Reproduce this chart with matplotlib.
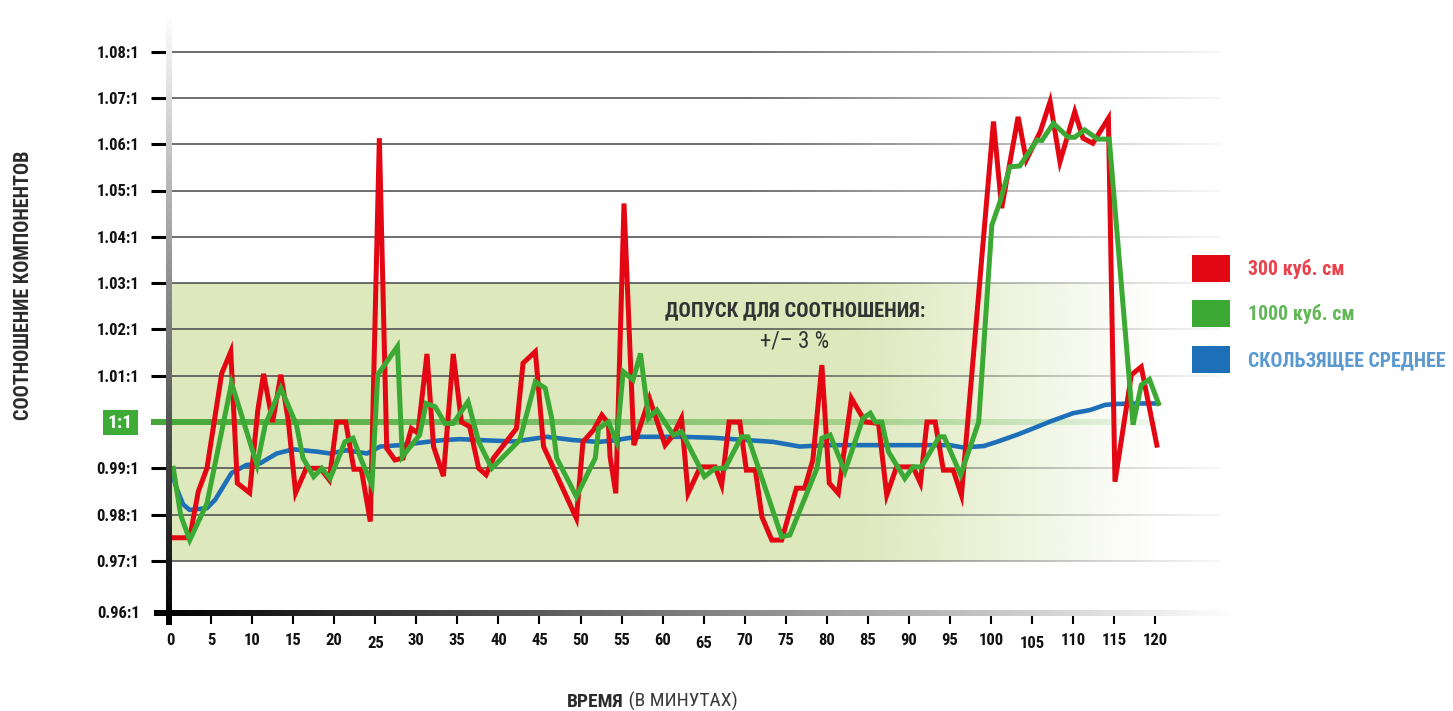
import numpy as np
import matplotlib
matplotlib.use("Agg")
import matplotlib.pyplot as plt
from matplotlib import font_manager as fm
from matplotlib.collections import LineCollection
from matplotlib.patches import Patch, Rectangle
from matplotlib.colors import to_rgba
from matplotlib.transforms import ScaledTranslation

# ---------------- data ----------------
t_300 = [0, 2.4, 3.45, 4.5, 6.3, 7.4, 8.2, 9.7, 10.7, 11.4, 12.5, 13.5, 14.4, 15.3,
         16.6, 18.3, 19.4, 20.3, 21.4, 22.4, 23.3, 24.4, 25.5, 26.4, 27.4, 28.4, 29.4,
         30.2, 31.3, 32.1, 33.3, 34.5, 35.5, 36.5, 37.6, 38.5, 39.4, 42.2, 43.0, 44.5,
         45.5, 49.5, 50.3, 51.6, 52.6, 53.4, 53.6, 54.3, 55.3, 56.5, 58.4, 60.3, 61.3,
         62.3, 63.1, 64.6, 66.4, 67.2, 68.1, 69.4, 70.2, 71.3, 72.1, 73.3, 74.5, 76.3,
         77.3, 78.3, 79.4, 80.3, 81.4, 83.0, 84.7, 86.3, 87.3, 88.5, 90.5, 91.4, 92.2,
         93.2, 94.2, 95.4, 96.4, 100.3, 101.3, 103.3, 104.3, 106.0, 107.2, 108.4, 110.2,
         111.2, 112.4, 114.3, 115.1, 117.1, 118.3, 120.2]
v_300 = [0.975, 0.975, 0.985, 0.990, 1.0105, 1.0152, 0.9868, 0.9847, 1.0026, 1.0104,
         1.000, 1.0102, 1.0004, 0.9847, 0.990, 0.990, 0.9875, 1.000, 1.000, 0.9898,
         0.9898, 0.9785, 1.0613, 0.9943, 0.9918, 0.9922, 0.9986, 0.9976, 1.0147, 0.9947,
         0.9883, 1.0147, 1.000, 0.999, 0.990, 0.9886, 0.9922, 0.9986, 1.0127, 1.0152,
         0.9947, 0.9792, 0.9957, 0.9983, 1.0015, 0.9997, 0.9925, 0.9846, 1.0472, 0.995,
         1.0051, 0.995, 0.9972, 1.0008, 0.9846, 0.9903, 0.9903, 0.9864, 1.000, 1.000,
         0.9896, 0.9896, 0.9795, 0.9745, 0.9745, 0.9857, 0.9857, 0.9918, 1.0123, 0.9868,
         0.9846, 1.0051, 1.000, 0.9997, 0.9842, 0.9903, 0.9903, 0.9868, 1.000, 1.000,
         0.9896, 0.9896, 0.9842, 1.0649, 1.0462, 1.0659, 1.0566, 1.0627, 1.0692, 1.0562,
         1.067, 1.0613, 1.0602, 1.0656, 0.9871, 1.0102, 1.0119, 0.995]

t_1000 = [0.4, 1.3, 2.4, 4.5, 7.5, 10.6, 11.6, 13.5, 15.4, 16.2, 17.5, 18.5, 19.5, 21.3,
          22.3, 23.3, 24.6, 25.3, 27.7, 28.3, 30.4, 31.2, 32.3, 33.5, 34.5, 36.3, 37.6,
          39.2, 42.6, 44.5, 45.7, 46.5, 47.1, 49.5, 51.8, 52.2, 53.4, 54.4, 55.2, 56.4,
          57.3, 58.3, 59.3, 61.3, 62.3, 65.1, 66.4, 67.6, 69.6, 70.4, 74.5, 75.5, 78.8,
          79.4, 80.4, 82.2, 84.4, 85.3, 85.9, 86.7, 87.5, 89.5, 90.5, 91.5, 93.7, 94.3,
          96.3, 98.5, 100.1, 101.1, 102.3, 103.5, 105.6, 106.2, 107.6, 109.4, 110.2,
          111.4, 113.0, 114.4, 117.3, 118.3, 119.3, 120.4]
v_1000 = [0.990, 0.9799, 0.9745, 0.9824, 1.0084, 0.9907, 0.9994, 1.0073, 0.9994, 0.9922,
          0.9882, 0.990, 0.9878, 0.9957, 0.9965, 0.9918, 0.9864, 1.0102, 1.0163, 0.9925,
          0.9972, 1.004, 1.0033, 0.9997, 0.9997, 1.0044, 0.9957, 0.990, 0.9961, 1.0087,
          1.0073, 1.0008, 0.9922, 0.9839, 0.9922, 0.9986, 1.000, 0.9957, 1.0109, 1.0091,
          1.0148, 1.0008, 1.0026, 0.9972, 0.9979, 0.9882, 0.990, 0.990, 0.9968, 0.9968,
          0.9752, 0.9756, 0.990, 0.9965, 0.9972, 0.9893, 1.0008, 1.0019, 1.000, 1.000,
          0.9936, 0.9878, 0.9903, 0.9903, 0.9968, 0.9968, 0.9886, 1.000, 1.0425, 1.0476,
          1.0551, 1.0553, 1.0609, 1.0608, 1.0645, 1.0615, 1.0615, 1.0631, 1.0611, 1.0611,
          0.9994, 1.008, 1.0092, 1.004]

t_avg = [0.2, 0.8, 1.6, 2.4, 4.5, 5.5, 7.5, 9.3, 11.0, 13.0, 15.0, 17.9, 19.5, 21.5, 24.0,
         25.6, 28.0, 31.3, 33.3, 35.3, 39.0, 42.0, 45.9, 49.1, 52.2, 54.0, 56.8, 62.1,
         66.1, 69.4, 73.5, 76.7, 80.0, 90.0, 95.0, 96.6, 99.1, 100.7, 103.1, 104.7, 107.2,
         110.0, 112.1, 113.9, 115.3, 117.7, 120.4]
v_avg = [0.989, 0.9857, 0.9822, 0.981, 0.9814, 0.9832, 0.989, 0.9907, 0.9911, 0.9932,
         0.9941, 0.9936, 0.9932, 0.9939, 0.9932, 0.9947, 0.995, 0.9957, 0.9961, 0.9963,
         0.996, 0.9958, 0.9968, 0.9961, 0.9957, 0.996, 0.9968, 0.9968, 0.9966, 0.9962,
         0.9957, 0.9947, 0.995, 0.995, 0.995, 0.9945, 0.9948, 0.9957, 0.9972, 0.9983,
         1.0001, 1.0019, 1.0026, 1.0037, 1.0039, 1.004, 1.004]

x_ticks = [0, 5, 10, 15, 20, 25, 30, 35, 40, 45, 50, 55, 60, 65, 70, 75, 80, 85, 90, 95,
           100, 105, 110, 115, 120]
x_tick_labels = [str(v) for v in x_ticks]
y_ticks = [0.97, 0.98, 0.99, 1.01, 1.02, 1.03, 1.04, 1.05, 1.06, 1.07, 1.08]
y_tick_labels = ["0.97:1", "0.98:1", "0.99:1", "1.01:1", "1.02:1", "1.03:1", "1.04:1",
                 "1.05:1", "1.06:1", "1.07:1", "1.08:1"]
bottom_label = "0.96:1"
target_ratio = 1.0
target_label = "1:1"
tol_low, tol_high = 0.97, 1.03
series_labels = ["300 куб. см", "1000 куб. см", "СКОЛЬЗЯЩЕЕ СРЕДНЕЕ"]

# ---------------- fonts ----------------
available = {f.name for f in fm.fontManager.ttflist}
def pick(*names):
    for n in names:
        if n in available:
            return n
    return "DejaVu Sans"
NARROW = pick("Liberation Sans Narrow", "DejaVu Sans Condensed", "Roboto Condensed",
              "Liberation Sans")
plt.rcParams["font.family"] = [NARROW, "DejaVu Sans"]

# ---------------- geometry helpers ----------------
W, H = 1453, 711
PX_PER_MIN = 8.21
PX_PER_UNIT = 4630.0
def vy(py):   # pixel row -> value
    return 1.0 + (422.0 - py) / PX_PER_UNIT
def tx(px):   # pixel column -> minutes
    return (px - 170.0) / PX_PER_MIN
def fx(px):
    return px / W
def fy(py):
    return 1 - py / H

RED = "#e30613"
GREEN = "#3ca935"
BLUE = "#1d6fb8"

fig = plt.figure(figsize=(W / 100, H / 100), dpi=100)
x_max = 128
ax = fig.add_axes([fx(170), fy(613), 128 * PX_PER_MIN / W, 600 / H])
ax.set_xlim(0, x_max)
ax.set_ylim(vy(613), vy(13))
for s in ax.spines.values():
    s.set_visible(False)
ax.patch.set_visible(False)

# tolerance band with fading right part
band_end = tx(1160)
n = 600
xs = np.linspace(0, band_end, n)
alpha = np.clip((band_end - xs) / (band_end - 84.0), 0, 1)
band = np.zeros((1, n, 4))
band[..., :3] = to_rgba("#dde9bd")[:3]
band[0, :, 3] = alpha
ax.imshow(band, extent=[0, band_end, tol_low, tol_high], aspect="auto",
          interpolation="bilinear", zorder=1)

# grid lines fading to the right
gx = np.linspace(0, tx(1245), 300)
ga = np.clip((gx[-1] - gx) / (gx[-1] - 70.0), 0, 1)
for yv in y_ticks:
    segs = [[(gx[i], yv), (gx[i + 1], yv)] for i in range(len(gx) - 1)]
    cols = [(0.28, 0.28, 0.28, ga[i]) for i in range(len(gx) - 1)]
    ax.add_collection(LineCollection(segs, colors=cols, linewidths=1.1, zorder=2,
                                     capstyle="butt"))

# 1:1 target line, fading
lx = np.linspace(tx(151), band_end, 300)
la = np.clip(1.0 - 0.92 * np.clip(lx, 0, None) / band_end, 0, 1)
segs = [[(lx[i], target_ratio), (lx[i + 1], target_ratio)] for i in range(len(lx) - 1)]
cols = [to_rgba("#45a838", la[i]) for i in range(len(lx) - 1)]
ax.add_collection(LineCollection(segs, colors=cols, linewidths=4.3, zorder=3,
                                 capstyle="butt", clip_on=False))

# series
ax.plot(t_avg, v_avg, color=BLUE, lw=3.3, zorder=4, solid_joinstyle="round",
        solid_capstyle="round")
ax.plot(t_300, v_300, color=RED, lw=3.6, zorder=5, solid_joinstyle="miter")
ax.plot(t_1000, v_1000, color=GREEN, lw=3.6, zorder=6, solid_joinstyle="miter")

# axis bars with gradients
ygrad = np.linspace(1, 0, 256)[:, None]
ax.imshow(ygrad, cmap="gray", vmin=0, vmax=1, extent=[tx(166), tx(172), vy(625), vy(13)],
          aspect="auto", zorder=10, clip_on=False, interpolation="bilinear")
xgrad = np.linspace(0, 1, 512)[None, :]
ax.imshow(xgrad, cmap="gray", vmin=0, vmax=1, extent=[tx(154), tx(1235), vy(616), vy(610)],
          aspect="auto", zorder=10, clip_on=False, interpolation="bilinear")
ax.set_xlim(0, x_max)
ax.set_ylim(vy(613), vy(13))

# ticks
ax.set_xticks(x_ticks, x_tick_labels)
ax.set_yticks(y_ticks, y_tick_labels)
ax.tick_params(axis="x", length=8, width=1.5, color="black", pad=6.5, labelsize=12,
               labelcolor="#111111")
ax.tick_params(axis="y", length=13.5, width=2.2, color="black", pad=8.5, labelsize=12,
               labelcolor="#111111")
for lab in ax.get_yticklabels():
    lab.set_fontweight("bold")
for lab in ax.get_xticklabels():
    lab.set_fontweight("bold")
    if lab.get_text() in ("25", "65", "105"):
        lab.set_transform(lab.get_transform() + ScaledTranslation(0, -0.03, fig.dpi_scale_trans))

fig.text(fx(139.5), fy(614), bottom_label, ha="right", va="center", fontsize=12,
         fontweight="bold", color="#111111")

# 1:1 label box
fig.patches.append(Rectangle((fx(102.7), fy(435)), 35.6 / W, 25 / H, transform=fig.transFigure,
                             facecolor="#3dab35", edgecolor="none"))
fig.text(fx(120.5), fy(422.5), target_label, ha="center", va="center", fontsize=14,
         fontweight="bold", color="white")

# axis titles
fig.text(fx(24), fy(285), "СООТНОШЕНИЕ КОМПОНЕНТОВ", rotation=90, ha="center", va="center",
         fontsize=14.6, fontweight="bold", color="#2b2b2b")

# annotation
ax.text(tx(795), vy(311), "ДОПУСК ДЛЯ СООТНОШЕНИЯ:", ha="center", va="center", fontsize=14.8,
        fontweight="bold", color="#333333", zorder=8)
ax.text(tx(795), vy(341), "+/– 3 %", ha="center", va="center", fontsize=16.5,
        color="#333333", zorder=8)

# x title in two weights
t1 = fig.text(0, fy(707), "ВРЕМЯ", ha="left", va="baseline", fontsize=14,
              fontweight="bold", color="#2b2b2b")
t2 = fig.text(0, fy(707), " (В МИНУТАХ)", ha="left", va="baseline", fontsize=14,
              color="#3a3a3a")
fig.canvas.draw()
r = fig.canvas.get_renderer()
w1 = t1.get_window_extent(r).width
w2 = t2.get_window_extent(r).width
start = 652 - (w1 + w2) / 2
t1.set_x(fx(start))
t2.set_x(fx(start + w1))

# legend
handles = [Patch(facecolor=RED, edgecolor="none"),
           Patch(facecolor=GREEN, edgecolor="none"),
           Patch(facecolor=BLUE, edgecolor="none")]
fs_pt = 14.3
fs_px = fs_pt / 0.72
leg = fig.legend(handles, series_labels, loc="upper left",
                 bbox_to_anchor=(fx(1192), fy(255)), bbox_transform=fig.transFigure,
                 frameon=False, fontsize=fs_pt, handlelength=38 / fs_px,
                 handleheight=34 / fs_px, handletextpad=18 / fs_px,
                 labelspacing=18.5 / fs_px, borderpad=0, borderaxespad=0)
for txt, c in zip(leg.get_texts(), ["#e8424c", "#62b857", "#5b99cf"]):
    txt.set_color(c)
    txt.set_fontweight("bold")

fig.savefig("out.png", dpi=100)
